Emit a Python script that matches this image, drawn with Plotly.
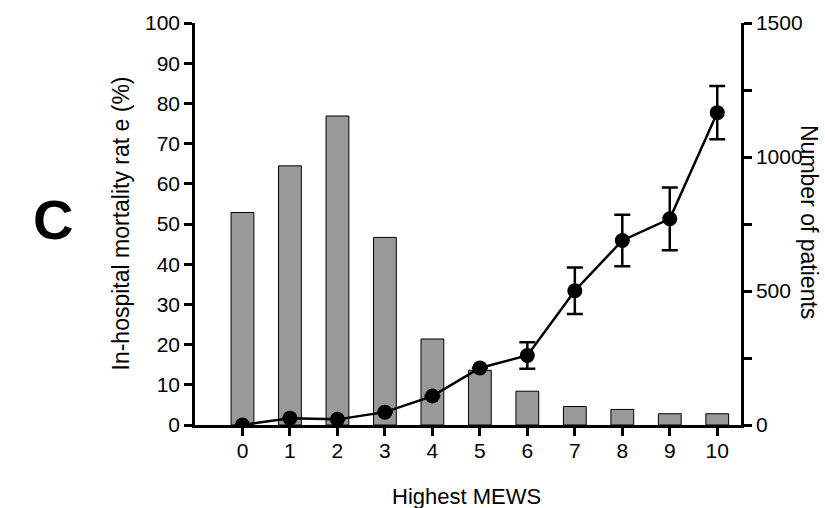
import plotly.graph_objects as go

# Data
mews = [0, 1, 2, 3, 4, 5, 6, 7, 8, 9, 10]
patients = [793, 967, 1153, 700, 321, 204, 126, 69, 58, 42, 42]
mortality = [0.0, 1.7, 1.4, 3.2, 7.2, 14.2, 17.3, 33.4, 45.9, 51.3, 77.7]
mortality_err = [0, 0, 0, 0, 0, 0, 3.3, 5.8, 6.4, 7.8, 6.6]

FONT = "Liberation Sans, Arial, sans-serif"

fig = go.Figure()
fig.add_trace(go.Bar(
    x=mews, y=patients, yaxis="y", width=0.48,
    marker=dict(color="#999999", line=dict(color="black", width=1)),
    showlegend=False,
))
fig.add_trace(go.Scatter(
    x=mews, y=mortality, yaxis="y2", mode="lines+markers",
    line=dict(color="black", width=2.5),
    marker=dict(color="black", size=15),
    error_y=dict(type="data", array=mortality_err, visible=True,
                 color="black", thickness=2.5, width=8),
    showlegend=False,
))

axis_common = dict(showline=True, linecolor="black", linewidth=2.5,
                   ticks="outside", ticklen=8, tickwidth=2.5, tickcolor="black",
                   showgrid=False, zeroline=False,
                   tickfont=dict(family=FONT, size=21, color="black"))

fig.update_layout(
    width=825, height=508,
    margin=dict(l=195, r=84, t=23, b=83),
    paper_bgcolor="white", plot_bgcolor="white",
    font=dict(family=FONT, color="black"),
    xaxis=dict(range=[-1, 10.5], tickvals=mews, ticklabelstandoff=-3, **axis_common),
    yaxis=dict(range=[0, 1500], side="right", tickvals=[0, 500, 1000, 1500],
               minor=dict(tickvals=[250, 750, 1250], ticks="outside", ticklen=8,
                          tickwidth=2.5, tickcolor="black"),
               **axis_common),
    yaxis2=dict(range=[0, 100], overlaying="y", side="left", dtick=10,
                anchor="x", **axis_common),
    annotations=[
        dict(text="Highest MEWS", xref="paper", yref="paper", x=0.498, y=-0.178,
             xanchor="center", yanchor="middle", showarrow=False,
             font=dict(family=FONT, size=22)),
        dict(text="In-hospital mortality rat e (%)", xref="paper", yref="paper",
             x=-0.135, y=0.502, xanchor="center", yanchor="middle", showarrow=False,
             textangle=-90, font=dict(family=FONT, size=23)),
        dict(text="Number of patients", xref="paper", yref="paper",
             x=(809 - 195) / 546, y=0.505, xanchor="center", yanchor="middle", showarrow=False,
             textangle=90, font=dict(family=FONT, size=23)),
        dict(text="<b>C</b>", xref="paper", yref="paper",
             x=(53 - 195) / 546, y=(425.5 - 220) / 402.5,
             xanchor="center", yanchor="middle", showarrow=False,
             font=dict(family=FONT, size=56)),
    ],
)

fig.write_html("out.html")
